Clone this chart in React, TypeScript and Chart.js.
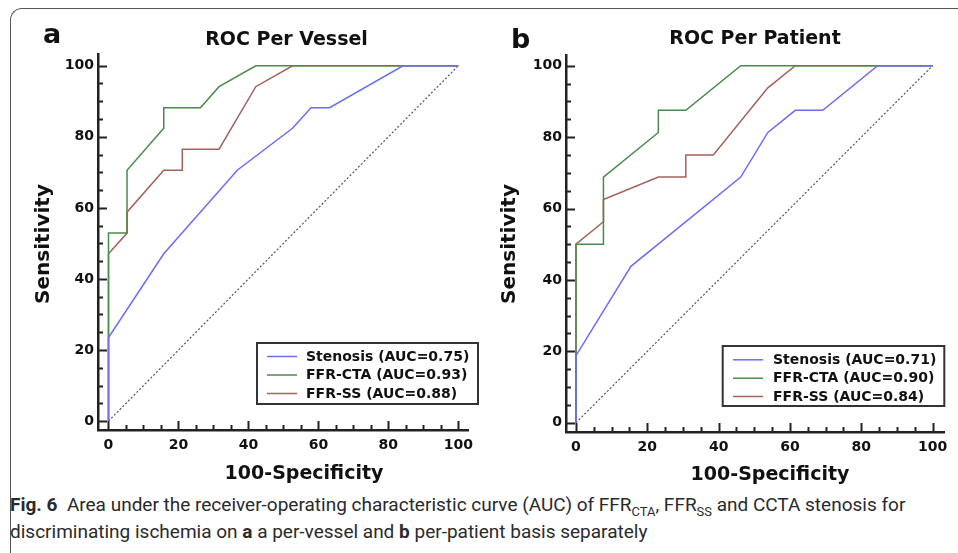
import React, { useEffect, useRef } from "react";
import { Chart, registerables } from "chart.js";

Chart.register(...registerables);

// ---------- data ----------
const tickValues = [0, 20, 40, 60, 80, 100];
const minorTickValues = [0, 5, 10, 15, 20, 25, 30, 35, 40, 45, 50, 55, 60, 65, 70, 75, 80, 85, 90, 95, 100];
const seriesNames = ["Stenosis", "FFR-CTA", "FFR-SS"];
const seriesColors = ["#6b6ef2", "#4c8a4c", "#a3625a"];

// per vessel (a)
const vesselStenosisFpr = [0, 0, 15.8, 36.8, 52.6, 57.9, 63.2, 84.2, 100];
const vesselStenosisTpr = [0, 23.5, 47.1, 70.6, 82.4, 88.2, 88.2, 100, 100];
const vesselCtaFpr = [0, 0, 5.3, 5.3, 15.8, 15.8, 26.3, 31.6, 42.1, 100];
const vesselCtaTpr = [0, 52.9, 52.9, 70.6, 82.4, 88.2, 88.2, 94.1, 100, 100];
const vesselSsFpr = [0, 0, 5.3, 5.3, 15.8, 21.1, 21.1, 31.6, 42.1, 52.6, 100];
const vesselSsTpr = [0, 47.1, 52.9, 58.8, 70.6, 70.6, 76.5, 76.5, 94.1, 100, 100];
const vesselAuc = ["0.75", "0.93", "0.88"];

// per patient (b)
const patientStenosisFpr = [0, 0, 15.4, 46.2, 53.8, 61.5, 69.2, 84.6, 100];
const patientStenosisTpr = [0, 18.8, 43.8, 68.8, 81.3, 87.5, 87.5, 100, 100];
const patientCtaFpr = [0, 0, 7.7, 7.7, 23.1, 23.1, 30.8, 46.2, 100];
const patientCtaTpr = [0, 50, 50, 68.8, 81.3, 87.5, 87.5, 100, 100];
const patientSsFpr = [0, 0, 7.7, 7.7, 23.1, 30.8, 30.8, 38.5, 53.8, 61.5, 100];
const patientSsTpr = [0, 50, 56.3, 62.5, 68.8, 68.8, 75, 75, 93.8, 100, 100];
const patientAuc = ["0.71", "0.90", "0.84"];

const diagonalX = [0, 100];
const diagonalY = [0, 100];

const zip = (xs: number[], ys: number[]) => xs.map((x, i) => ({ x, y: ys[i] }));

const FONT = '"DejaVu Sans", "Liberation Sans", sans-serif';

const decorPlugin = {
  id: "decor",
  afterDraw(chart: any, _args: any, o: any) {
    const { ctx } = chart;
    const xs = chart.scales.x;
    const ys = chart.scales.y;
    const area = chart.chartArea;
    ctx.save();
    // inward ticks
    ctx.strokeStyle = "#222";
    ctx.lineWidth = 2;
    ctx.beginPath();
    for (const v of minorTickValues) {
      const len = v % 20 === 0 ? 9 : 5;
      const px = Math.round(xs.getPixelForValue(v)) + 0.5;
      ctx.moveTo(px, area.bottom);
      ctx.lineTo(px, area.bottom - len);
      const py = Math.round(ys.getPixelForValue(v)) + 0.5;
      ctx.moveTo(area.left, py);
      ctx.lineTo(area.left + len, py);
    }
    ctx.stroke();

    ctx.fillStyle = "#111";
    ctx.textBaseline = "alphabetic";
    // panel letter
    ctx.font = `bold 27px ${FONT}`;
    ctx.textAlign = "left";
    ctx.fillText(o.letter, o.letterX, o.letterY);
    // title
    ctx.font = `bold 19px ${FONT}`;
    ctx.textAlign = "center";
    ctx.fillText(o.title, o.titleX, o.titleY);
    // x title
    ctx.fillText(o.xTitle, o.xTitleX, o.xTitleY);
    // y title
    ctx.save();
    ctx.translate(o.yTitleX, o.yTitleY);
    ctx.rotate(-Math.PI / 2);
    ctx.textBaseline = "middle";
    ctx.font = `bold 20px ${FONT}`;
    ctx.fillText(o.yTitle, 0, 0);
    ctx.restore();

    // legend
    const lg = o.legend;
    ctx.strokeStyle = "#333";
    ctx.lineWidth = 2;
    ctx.strokeRect(lg.x, lg.y, lg.w, lg.h);
    ctx.font = `bold 14px ${FONT}`;
    ctx.textAlign = "left";
    ctx.textBaseline = "middle";
    const items = chart.data.datasets.filter((d: any) => d.inLegend);
    items.forEach((d: any, i: number) => {
      const ry = lg.rows[i];
      ctx.strokeStyle = d.borderColor;
      ctx.lineWidth = 1.5;
      ctx.beginPath();
      ctx.moveTo(lg.lineX0, ry + 0.5);
      ctx.lineTo(lg.lineX1, ry + 0.5);
      ctx.stroke();
      ctx.fillStyle = "#111";
      ctx.fillText(d.label, lg.textX, ry + 1);
    });
    ctx.restore();
  },
};

type PanelCfg = {
  width: number;
  height: number;
  area: { left: number; right: number; top: number; bottom: number };
  xMin: number;
  xMax: number;
  yMin: number;
  yMax: number;
  series: { x: number[]; y: number[] }[];
  auc: string[];
  decor: any;
};

function RocPanel({ cfg, style }: { cfg: PanelCfg; style: React.CSSProperties }) {
  const ref = useRef<HTMLCanvasElement | null>(null);
  useEffect(() => {
    if (!ref.current) return;
    const datasets: any[] = cfg.series.map((s, i) => ({
      label: `${seriesNames[i]} (AUC=${cfg.auc[i]})`,
      data: zip(s.x, s.y),
      borderColor: seriesColors[i],
      borderWidth: 1.5,
      pointRadius: 0,
      showLine: true,
      tension: 0,
      inLegend: true,
    }));
    datasets.push({
      label: "Reference",
      data: zip(diagonalX, diagonalY),
      borderColor: "#555",
      borderWidth: 1.2,
      borderDash: [2, 2],
      pointRadius: 0,
      showLine: true,
      inLegend: false,
    });
    const { area } = cfg;
    const chart = new Chart(ref.current, {
      type: "scatter",
      data: { datasets },
      plugins: [decorPlugin],
      options: {
        responsive: false,
        animation: false,
        layout: {
          padding: { left: 0, top: area.top, right: cfg.width - area.right, bottom: 0 },
        },
        plugins: {
          legend: { display: false },
          tooltip: { enabled: false },
          title: { display: false },
          decor: cfg.decor,
        } as any,
        scales: {
          x: {
            type: "linear",
            min: cfg.xMin,
            max: cfg.xMax,
            grid: { display: false, drawTicks: false },
            border: { display: true, color: "#222", width: 2.5 },
            afterBuildTicks: (s: any) => {
              s.ticks = tickValues.map((v) => ({ value: v }));
            },
            afterFit: (s: any) => {
              s.height = cfg.height - area.bottom;
            },
            ticks: {
              padding: 7,
              color: "#111",
              font: { family: FONT, size: 14, weight: "bold" },
              maxRotation: 0,
              autoSkip: false,
            },
          },
          y: {
            type: "linear",
            min: cfg.yMin,
            max: cfg.yMax,
            grid: { display: false, drawTicks: false },
            border: { display: true, color: "#222", width: 2.5 },
            afterBuildTicks: (s: any) => {
              s.ticks = tickValues.map((v) => ({ value: v }));
            },
            afterFit: (s: any) => {
              s.width = area.left;
            },
            ticks: {
              padding: 4,
              color: "#111",
              font: { family: FONT, size: 14, weight: "bold" },
              autoSkip: false,
            },
          },
        },
      } as any,
    });
    return () => chart.destroy();
  }, [cfg]);
  return <canvas ref={ref} width={cfg.width} height={cfg.height} style={{ position: "absolute", ...style }} />;
}

const panelA: PanelCfg = {
  width: 480,
  height: 490,
  area: { left: 98, right: 477, top: 54, bottom: 430 },
  xMin: -3,
  xMax: 103,
  yMin: -2.5,
  yMax: 103.3,
  series: [
    { x: vesselStenosisFpr, y: vesselStenosisTpr },
    { x: vesselCtaFpr, y: vesselCtaTpr },
    { x: vesselSsFpr, y: vesselSsTpr },
  ],
  auc: vesselAuc,
  decor: {
    letter: "a",
    letterX: 43,
    letterY: 43,
    title: "ROC Per Vessel",
    titleX: 286.5,
    titleY: 45,
    xTitle: "100-Specificity",
    xTitleX: 304,
    xTitleY: 479,
    yTitle: "Sensitivity",
    yTitleX: 44,
    yTitleY: 244,
    legend: { x: 257, y: 343, w: 221, h: 61, lineX0: 267, lineX1: 297, textX: 306, rows: [356, 374.5, 393] },
  },
};

const panelB: PanelCfg = {
  width: 488,
  height: 490,
  area: { left: 96, right: 474, top: 55, bottom: 432 },
  xMin: -2.8,
  xMax: 103.2,
  yMin: -2.6,
  yMax: 103,
  series: [
    { x: patientStenosisFpr, y: patientStenosisTpr },
    { x: patientCtaFpr, y: patientCtaTpr },
    { x: patientSsFpr, y: patientSsTpr },
  ],
  auc: patientAuc,
  decor: {
    letter: "b",
    letterX: 41,
    letterY: 48,
    title: "ROC Per Patient",
    titleX: 285,
    titleY: 44,
    xTitle: "100-Specificity",
    xTitleX: 300,
    xTitleY: 480,
    yTitle: "Sensitivity",
    yTitleX: 39.5,
    yTitleY: 244,
    legend: { x: 252.7, y: 346, w: 221.6, h: 60, lineX0: 263, lineX1: 293, textX: 303, rows: [359.3, 377.7, 396] },
  },
};

const subStyle: React.CSSProperties = { fontSize: "0.68em", verticalAlign: "-0.35em", lineHeight: 0 };

export default function App() {
  return (
    <div
      style={{
        position: "absolute",
        left: 0,
        top: 0,
        width: 958,
        height: 553,
        background: "#fff",
        overflow: "hidden",
      }}
    >
      <div
        style={{
          position: "absolute",
          left: 10,
          top: 8,
          width: 1000,
          height: 620,
          borderTop: "1.5px solid #555",
          borderLeft: "1.5px solid #555",
          borderTopLeftRadius: 12,
        }}
      />
      <RocPanel cfg={panelA} style={{ left: 0, top: 0 }} />
      <RocPanel cfg={panelB} style={{ left: 470, top: 0 }} />
      <div
        style={{
          position: "absolute",
          left: 10,
          top: 491,
          width: 1100,
          fontFamily: "Roboto, 'Noto Sans', sans-serif",
          fontSize: 19,
          lineHeight: "27px",
          color: "#2a2a2a",
          whiteSpace: "nowrap",
        }}
      >
        <b>Fig. 6</b>&nbsp; Area under the receiver-operating characteristic curve (AUC) of FFR
        <sub style={subStyle}>CTA</sub>, FFR<sub style={subStyle}>SS</sub> and CCTA stenosis for
        <br />
        discriminating ischemia on <b>a</b> a per-vessel and <b>b</b> per-patient basis separately
      </div>
    </div>
  );
}
